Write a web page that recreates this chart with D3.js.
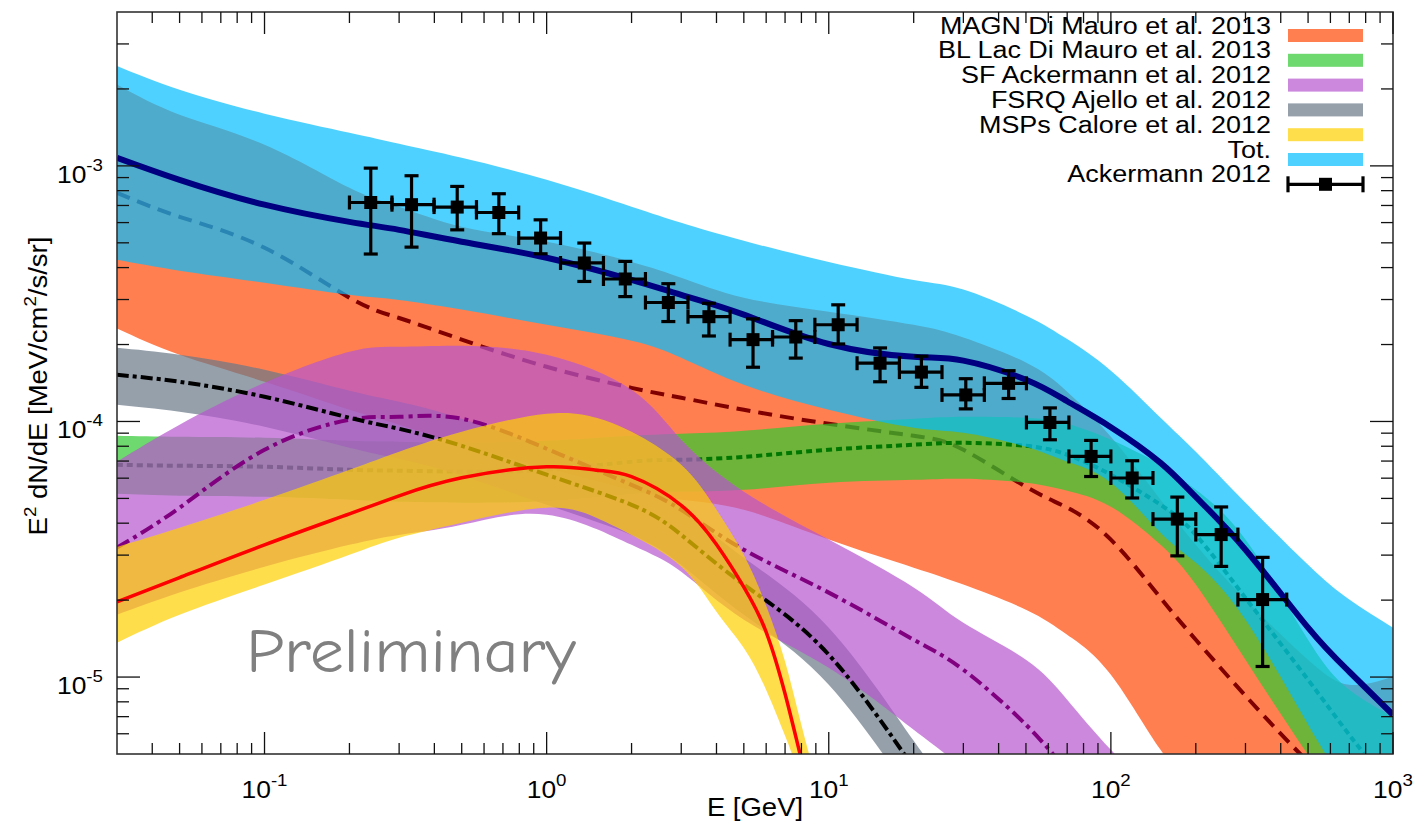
<!DOCTYPE html>
<html>
<head>
<meta charset="utf-8">
<script src="https://cdn.jsdelivr.net/npm/d3@7"></script>
<style>
  html, body { margin: 0; padding: 0; background: #fff; }
  svg { display: block; font-family: "Liberation Sans", Arial, Helvetica, sans-serif; }
</style>
</head>
<body>
<svg id="chart" width="1417" height="828"></svg>
<script>
// ---------------- data ----------------
// energy grid (GeV) for the population bands
const energy = [0.03, 0.05, 0.1, 0.2, 0.3, 0.5, 1, 2, 3, 5, 10, 20, 30, 50, 70, 100, 150, 200, 300, 500, 700, 1000];

// total model: upper edge, central curve, lower edge  (E^2 dN/dE, MeV/cm^2/s/sr)
const totHigh = [2.46e-3, 1.985e-3, 1.60e-3, 1.348e-3, 1.221e-3, 1.076e-3, 8.82e-4, 6.92e-4, 5.99e-4, 5.09e-4, 4.21e-4, 3.58e-4, 3.28e-4, 2.60e-4, 2.10e-4, 1.58e-4, 1.034e-4, 7.61e-5, 4.81e-5, 2.75e-5, 2.01e-5, 1.56e-5];
const totMid  = [1.076e-3, 8.82e-4, 7.05e-4, 6.04e-4, 5.62e-4, 5.05e-4, 4.37e-4, 3.58e-4, 3.13e-4, 2.62e-4, 2.01e-4, 1.79e-4, 1.73e-4, 1.456e-4, 1.20e-4, 9.50e-5, 6.89e-5, 5.07e-5, 3.15e-5, 1.56e-5, 1.049e-5, 7.12e-6];
const totLow  = [4.29e-4, 3.89e-4, 3.49e-4, 3.13e-4, 2.99e-4, 2.74e-4, 2.39e-4, 2.07e-4, 1.775e-4, 1.392e-4, 1.111e-4, 9.45e-5, 9.03e-5, 7.96e-5, 6.96e-5, 5.76e-5, 3.67e-5, 2.80e-5, 1.675e-5, 6.51e-6, 3.62e-6, 2.11e-6];

// misaligned AGN
const magnHigh = [2.08e-3, 1.585e-3, 1.21e-3, 8.21e-4, 6.92e-4, 5.78e-4, 5.05e-4, 4.21e-4, 3.65e-4, 3.05e-4, 2.69e-4, 2.39e-4, 2.13e-4, 1.70e-4, 1.307e-4, 8.71e-5, 4.94e-5, 3.29e-5, 2.01e-5, 1.169e-5, 9.33e-6, 1.003e-5];
const magnMid  = [7.85e-4, 6.32e-4, 4.78e-4, 3.05e-4, 2.54e-4, 2.09e-4, 1.637e-4, 1.354e-4, 1.238e-4, 1.111e-4, 9.79e-5, 8.79e-5, 7.75e-5, 5.55e-5, 4.60e-5, 3.45e-5, 2.04e-5, 1.40e-5, 8.45e-6, 4.66e-6, 3.31e-6, 2.21e-6];
const magnLow  = [2.31e-4, 1.824e-4, 1.43e-4, 1.111e-4, 9.71e-5, 8.11e-5, 6.59e-5, 5.40e-5, 4.94e-5, 4.51e-5, 3.45e-5, 2.68e-5, 2.30e-5, 1.834e-5, 1.464e-5, 1.021e-5, 5.19e-6, 3.62e-6, 1.93e-6, 9.38e-7, 5.98e-7, 3.81e-7];

// BL Lacertae objects
const blHigh = [8.79e-5, 8.71e-5, 8.63e-5, 8.40e-5, 8.33e-5, 8.25e-5, 8.40e-5, 8.79e-5, 8.95e-5, 9.20e-5, 9.79e-5, 1.025e-4, 1.043e-4, 1.034e-4, 9.79e-5, 8.48e-5, 6.77e-5, 5.40e-5, 3.45e-5, 1.40e-5, 8.92e-6, 7.0e-6];
const blMid  = [6.77e-5, 6.71e-5, 6.65e-5, 6.47e-5, 6.42e-5, 6.36e-5, 6.47e-5, 6.96e-5, 7.08e-5, 7.27e-5, 7.75e-5, 8.11e-5, 8.25e-5, 8.03e-5, 7.41e-5, 6.19e-5, 4.72e-5, 3.60e-5, 2.04e-5, 9.76e-6, 5.94e-6, 3.62e-6];
const blLow  = [5.21e-5, 5.12e-5, 5.07e-5, 4.94e-5, 4.85e-5, 4.81e-5, 4.89e-5, 5.21e-5, 5.31e-5, 5.40e-5, 5.76e-5, 5.91e-5, 5.97e-5, 5.76e-5, 5.36e-5, 4.64e-5, 3.29e-5, 2.30e-5, 1.169e-5, 4.97e-6, 3.03e-6, 1.843e-6];

// star-forming galaxies
const sfHigh = [6.96e-5, 9.71e-5, 1.417e-4, 1.874e-4, 1.96e-4, 1.978e-4, 1.824e-4, 1.33e-4, 8.48e-5, 5.31e-5, 3.45e-5, 2.24e-5, 1.63e-5, 1.169e-5, 8.15e-6, 5.19e-6, 3.31e-6, 2.42e-6, 1.61e-6, 9.38e-7, 6.84e-7, 4.77e-7];
const sfMid  = [3.21e-5, 4.60e-5, 7.75e-5, 1.016e-4, 1.043e-4, 1.025e-4, 7.82e-5, 5.65e-5, 4.51e-5, 3.15e-5, 2.14e-5, 1.40e-5, 1.068e-5, 6.51e-6, 4.34e-6, 3.03e-6, 2.02e-6, 1.50e-6, 9.99e-7, 5.98e-7, 4.24e-7, 2.96e-7];
const sfLow  = [1.752e-5, 2.14e-5, 2.70e-5, 3.29e-5, 3.60e-5, 3.94e-5, 4.32e-5, 3.29e-5, 2.58e-5, 1.675e-5, 1.087e-5, 6.22e-6, 4.34e-6, 2.53e-6, 1.93e-6, 1.285e-6, 8.19e-7, 5.98e-7, 3.81e-7, 2.22e-7, 1.55e-7, 1.08e-7];

// flat-spectrum radio quasars
const fsrqHigh = [1.942e-4, 1.824e-4, 1.594e-4, 1.319e-4, 1.194e-4, 1.025e-4, 7.89e-5, 6.02e-5, 4.60e-5, 2.93e-5, 1.56e-5, 5.63e-6, 3.22e-6, 1.715e-6, 1.093e-6, 6.97e-7, 4.06e-7, 2.83e-7, 1.65e-7, 8.77e-8, 5.59e-8, 3.56e-8];
const fsrqMid  = [1.523e-4, 1.43e-4, 1.249e-4, 1.034e-4, 9.36e-5, 8.03e-5, 6.19e-5, 4.72e-5, 3.60e-5, 2.30e-5, 1.223e-5, 4.42e-6, 2.53e-6, 1.345e-6, 8.57e-7, 5.46e-7, 3.18e-7, 2.22e-7, 1.29e-7, 6.88e-8, 4.38e-8, 2.79e-8];
const fsrqLow  = [1.162e-4, 1.091e-4, 9.53e-5, 7.89e-5, 7.14e-5, 6.13e-5, 4.72e-5, 3.60e-5, 2.75e-5, 1.752e-5, 9.33e-6, 3.37e-6, 1.93e-6, 1.026e-6, 6.54e-7, 4.17e-7, 2.43e-7, 1.69e-7, 9.86e-8, 5.25e-8, 3.35e-8, 2.13e-8];

// millisecond pulsars (own energy grid, denser near the cut-off)
const mspEnergy = [0.03, 0.05, 0.1, 0.2, 0.3, 0.5, 1, 1.5, 2, 3, 4, 5, 6, 7, 8, 10];
const mspHigh = [3.23e-5, 3.84e-5, 4.94e-5, 6.47e-5, 7.61e-5, 9.11e-5, 1.072e-4, 1.034e-4, 9.11e-5, 6.77e-5, 4.51e-5, 3.0e-5, 1.90e-5, 1.15e-5, 6.5e-6, 2.6e-6];
const mspMid  = [1.97e-5, 2.45e-5, 3.29e-5, 4.35e-5, 5.12e-5, 6.02e-5, 6.65e-5, 6.45e-5, 6.08e-5, 4.70e-5, 3.30e-5, 2.25e-5, 1.50e-5, 8.6e-6, 4.75e-6, 1.762e-6];
const mspLow  = [1.362e-5, 1.752e-5, 2.30e-5, 3.01e-5, 3.51e-5, 4.02e-5, 4.60e-5, 4.20e-5, 3.60e-5, 2.70e-5, 1.80e-5, 1.30e-5, 8.9e-6, 5.9e-6, 3.6e-6, 1.0e-6];

// Ackermann 2012 measured spectrum
const ackE    = [0.238, 0.332, 0.482, 0.677, 0.952, 1.36, 1.90, 2.70, 3.76, 5.39, 7.64, 10.8, 15.2, 21.3, 30.6, 43.4, 60.8, 85.1, 119, 172, 246, 345];
const ackElo  = [0.200, 0.283, 0.399, 0.564, 0.796, 1.12, 1.59, 2.24, 3.17, 4.47, 6.32, 8.93, 12.6, 17.8, 25.2, 35.6, 50.2, 71.0, 100, 141, 200, 282];
const ackEhi  = [0.283, 0.399, 0.564, 0.796, 1.12, 1.59, 2.24, 3.17, 4.47, 6.32, 8.93, 12.6, 17.8, 25.2, 35.6, 50.2, 71.0, 100, 141, 200, 282, 420];
const ackFlux = [7.19e-4, 7.05e-4, 6.90e-4, 6.57e-4, 5.22e-4, 4.17e-4, 3.61e-4, 2.92e-4, 2.57e-4, 2.09e-4, 2.14e-4, 2.39e-4, 1.69e-4, 1.56e-4, 1.27e-4, 1.41e-4, 9.91e-5, 7.30e-5, 6.01e-5, 4.15e-5, 3.61e-5, 2.01e-5];
const ackHi   = [9.80e-4, 9.15e-4, 8.31e-4, 7.78e-4, 6.15e-4, 4.99e-4, 4.23e-4, 3.46e-4, 2.90e-4, 2.52e-4, 2.48e-4, 2.86e-4, 1.94e-4, 1.80e-4, 1.47e-4, 1.58e-4, 1.13e-4, 8.43e-5, 7.02e-5, 5.06e-5, 4.63e-5, 2.94e-5];
const ackLo   = [4.52e-4, 4.81e-4, 5.62e-4, 5.43e-4, 4.53e-4, 3.53e-4, 3.08e-4, 2.46e-4, 2.16e-4, 1.63e-4, 1.77e-4, 2.01e-4, 1.43e-4, 1.36e-4, 1.12e-4, 1.23e-4, 8.48e-5, 6.09e-5, 5.02e-5, 2.98e-5, 2.71e-5, 1.10e-5];

// axis ticks
const xMajorTicks = [0.1, 1, 10, 100, 1000];
const xTickExp = ["-1", "0", "1", "2", "3"];
const yMajorTicks = [1e-5, 1e-4, 1e-3];
const yTickExp = ["-5", "-4", "-3"];

// legend entries
const legendLabels = ["MAGN Di Mauro et al. 2013", "BL Lac Di Mauro et al. 2013", "SF Ackermann et al. 2012",
                      "FSRQ Ajello et al. 2012", "MSPs Calore et al. 2012", "Tot.", "Ackermann 2012"];

// ---------------- styles ----------------
const bandAlpha = 0.7;
const colMagn = "rgb(255,72,5)";
const colBl   = "rgb(49,201,49)";
const colSf   = "rgb(182,85,206)";
const colFsrq = "rgb(105,119,136)";
const colMsp  = "rgb(255,208,0)";
const colTot  = "rgb(4,189,255)";

// ---------------- layout ----------------
const plot = { left: 117, right: 1393, top: 12, bottom: 754 };
const x = d3.scaleLog().domain([0.03, 1000]).range([plot.left, plot.right]);
const y = d3.scaleLog().domain([5e-6, 4e-3]).range([plot.bottom, plot.top]);
const stretch = 1.1;   // slightly wide lettering

const svg = d3.select("#chart");
svg.append("defs").append("clipPath").attr("id", "plotClip")
  .append("rect")
  .attr("x", plot.left).attr("y", plot.top)
  .attr("width", plot.right - plot.left).attr("height", plot.bottom - plot.top);

const layer = svg.append("g").attr("clip-path", "url(#plotClip)");

const curve = d3.curveNatural;
const area = d3.area()
  .x(d => x(d.e)).y0(d => y(d.lo)).y1(d => y(d.hi)).curve(curve);
const line = d3.line()
  .x(d => x(d.e)).y(d => y(d.v)).curve(curve);

function band(E, lo, hi, color) {
  layer.append("path")
    .datum(E.map((e, i) => ({ e, lo: lo[i], hi: hi[i] })))
    .attr("d", area)
    .attr("fill", color).attr("fill-opacity", bandAlpha);
}
function curveLine(E, v, color, width, dash) {
  layer.append("path")
    .datum(E.map((e, i) => ({ e, v: v[i] })))
    .attr("d", line)
    .attr("fill", "none").attr("stroke", color).attr("stroke-width", width)
    .attr("stroke-dasharray", dash || null);
}

// populations, back to front
band(energy, magnLow, magnHigh, colMagn);
curveLine(energy, magnMid, "#800000", 4, "14,8");
band(energy, blLow, blHigh, colBl);
curveLine(energy, blMid, "#007800", 4, "6,4");
band(energy, fsrqLow, fsrqHigh, colFsrq);
band(energy, sfLow, sfHigh, colSf);
curveLine(energy, sfMid, "#800080", 4, "14,5,4,5");
curveLine(energy, fsrqMid, "#000000", 4, "12,4,4,4");
band(mspEnergy, mspLow, mspHigh, colMsp);
curveLine(mspEnergy, mspMid, "#ff0000", 3.5);
band(energy, totLow, totHigh, colTot);
curveLine(energy, totMid, "#000080", 6);

// measured points with error bars
const pts = svg.append("g").attr("stroke", "#000").attr("stroke-width", 3.2);
const cap = 7, sq = 13;
ackE.forEach((e, i) => {
  const cx = x(e), cy = y(ackFlux[i]);
  const yt = y(ackHi[i]), yb = y(ackLo[i]);
  const xl = x(ackElo[i]), xr = x(ackEhi[i]);
  pts.append("line").attr("x1", cx).attr("x2", cx).attr("y1", yt).attr("y2", yb);
  pts.append("line").attr("x1", cx - cap).attr("x2", cx + cap).attr("y1", yt).attr("y2", yt);
  pts.append("line").attr("x1", cx - cap).attr("x2", cx + cap).attr("y1", yb).attr("y2", yb);
  pts.append("line").attr("x1", xl).attr("x2", xr).attr("y1", cy).attr("y2", cy);
  pts.append("line").attr("x1", xl).attr("x2", xl).attr("y1", cy - cap).attr("y2", cy + cap);
  pts.append("line").attr("x1", xr).attr("x2", xr).attr("y1", cy - cap).attr("y2", cy + cap);
  pts.append("rect").attr("x", cx - sq / 2).attr("y", cy - sq / 2)
    .attr("width", sq).attr("height", sq).attr("fill", "#000").attr("stroke", "none");
});

// ---------------- axes ----------------
const axes = svg.append("g");
axes.append("rect")
  .attr("x", plot.left).attr("y", plot.top)
  .attr("width", plot.right - plot.left).attr("height", plot.bottom - plot.top)
  .attr("fill", "none").attr("stroke", "#333").attr("stroke-width", 1.6);

const ticks = axes.append("g").attr("stroke", "#111").attr("stroke-width", 1.3);
const majLen = 22, minLen = 11;
const xTickVals = x.ticks().filter(v => v > 0.03 && v <= 1000);
xTickVals.forEach(v => {
  const isMajor = xMajorTicks.includes(+v.toPrecision(6));
  const len = isMajor ? majLen : minLen, px = x(v);
  ticks.append("line").attr("x1", px).attr("x2", px).attr("y1", plot.bottom).attr("y2", plot.bottom - len);
  ticks.append("line").attr("x1", px).attr("x2", px).attr("y1", plot.top).attr("y2", plot.top + len);
});
const yTickVals = y.ticks().filter(v => v > 5e-6 && v < 4e-3);
yTickVals.forEach(v => {
  const isMajor = yMajorTicks.some(m => Math.abs(m - v) / m < 1e-6);
  const len = isMajor ? majLen + 1 : minLen + 1, py = y(v);
  ticks.append("line").attr("x1", plot.left).attr("x2", plot.left + len).attr("y1", py).attr("y2", py);
  ticks.append("line").attr("x1", plot.right).attr("x2", plot.right - len).attr("y1", py).attr("y2", py);
});

function stretchedText(px, py, anchor, rotate) {
  const g = svg.append("g")
    .attr("transform", `translate(${px},${py})` + (rotate ? ` rotate(${rotate})` : "") + ` scale(${stretch},1)`);
  return g.append("text").attr("text-anchor", anchor).attr("fill", "#000");
}
function powerLabel(t, exp) {
  t.append("tspan").attr("font-size", 24).text("10");
  t.append("tspan").attr("font-size", 17).attr("dy", -12).text(exp);
}
xMajorTicks.forEach((v, i) => powerLabel(stretchedText(x(v), 798, "middle"), xTickExp[i]));
yMajorTicks.forEach((v, i) => powerLabel(stretchedText(103, y(v) + 17, "end"), yTickExp[i]));

// axis titles
const xt = stretchedText((plot.left + plot.right) / 2, 816, "middle");
xt.attr("font-size", 25).text("E [GeV]");
const yt = stretchedText(47, 386, "middle", -90);
yt.attr("font-size", 25);
yt.append("tspan").text("E");
yt.append("tspan").attr("font-size", 17).attr("dy", -11).text("2");
yt.append("tspan").attr("dy", 11).text(" dN/dE [MeV/cm");
yt.append("tspan").attr("font-size", 17).attr("dy", -11).text("2");
yt.append("tspan").attr("dy", 11).text("/s/sr]");

// ---------------- legend ----------------
const legendColors = [colMagn, colBl, colSf, colFsrq, colMsp, colTot, null];
const rowY = d3.range(legendLabels.length).map(i => 35.5 + i * 24.8);
const swX0 = 1288, swX1 = 1363;
legendLabels.forEach((lab, i) => {
  stretchedText(1271, rowY[i] - 2, "end").attr("font-size", 24.5).text(lab);
  if (legendColors[i]) {
    svg.append("rect").attr("x", swX0).attr("y", rowY[i] - 6.5)
      .attr("width", swX1 - swX0).attr("height", 13)
      .attr("fill", legendColors[i]).attr("fill-opacity", bandAlpha);
  } else {
    const g = svg.append("g").attr("stroke", "#000").attr("stroke-width", 3.2);
    const cy = rowY[i], cx = (swX0 + swX1) / 2;
    g.append("line").attr("x1", swX0).attr("x2", swX1).attr("y1", cy).attr("y2", cy);
    g.append("line").attr("x1", swX0).attr("x2", swX0).attr("y1", cy - 8).attr("y2", cy + 8);
    g.append("line").attr("x1", swX1).attr("x2", swX1).attr("y1", cy - 8).attr("y2", cy + 8);
    g.append("rect").attr("x", cx - 6.5).attr("y", cy - 6.5).attr("width", 13).attr("height", 13)
      .attr("fill", "#000").attr("stroke", "none");
  }
});

// watermark
svg.append("text")
  .attr("x", 246).attr("y", 672)
  .attr("font-family", "'Comic Sans MS','Comic Neue','Noto Sans',sans-serif")
  .attr("font-size", 62)
  .attr("fill", "#808080")
  .attr("textLength", 330).attr("lengthAdjust", "spacingAndGlyphs")
  .text("Preliminary");
</script>
</body>
</html>
